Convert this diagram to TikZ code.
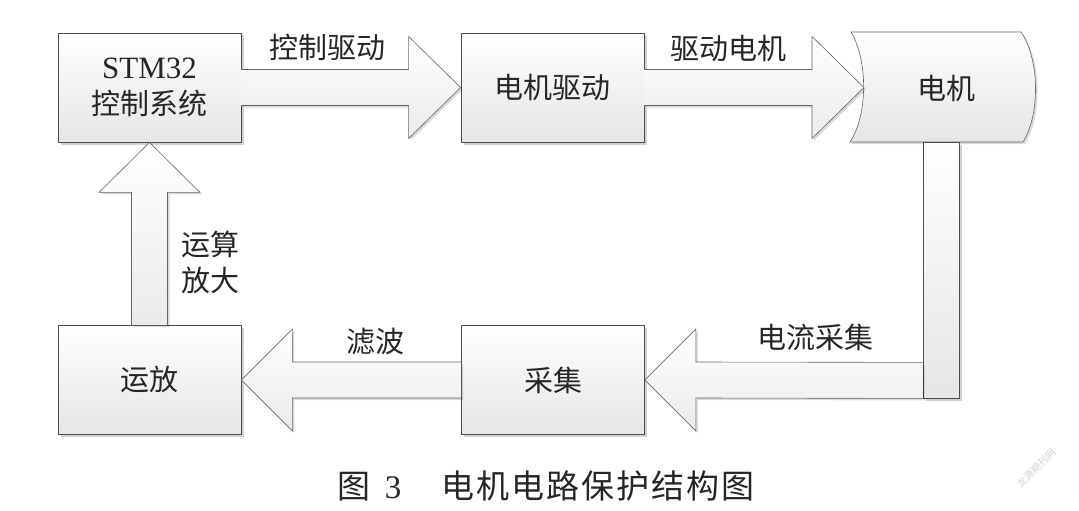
\documentclass[tikz,border=0pt]{standalone}
\usepackage{fontspec}
\setmainfont{Liberation Serif}
\newfontfamily\lat{Liberation Serif}
\newfontfamily\cjk{Noto Sans CJK SC}
\newfontfamily\cjkwide[LetterSpace=6]{Noto Sans CJK SC}
\usetikzlibrary{calc,shadows}

\begin{document}
\begin{tikzpicture}[x=1pt,y=-1pt,
    box/.style={draw=black!70,line width=0.8pt,top color=white,bottom color=black!10,
      minimum width=183pt,minimum height=109pt,inner sep=0pt,align=center,
      font=\cjk\fontsize{29}{36}\selectfont,text=black!85,
      drop shadow={shadow xshift=2.5pt,shadow yshift=-2.5pt,opacity=0.18,fill=black}},
    blockarrow/.style={draw=black!60,line width=0.6pt,top color=white,bottom color=black!8,
      drop shadow={shadow xshift=2pt,shadow yshift=-2pt,opacity=0.15,fill=black}},
    lbl/.style={font=\cjk\fontsize{29}{36}\selectfont,text=black!85,align=center,inner sep=0pt}]
  \useasboundingbox (0,0) rectangle (1079,511);
  \node[box] (stm) at (149.5,87.5) {{\lat\fontsize{31}{36}\selectfont STM32}\\控制系统};
  \node[box] (drv) at (552.5,87.5) {电机驱动};
  \node[box] (amp) at (149.5,380) {运放};
  \node[box] (acq) at (553,380) {采集};
  \draw[blockarrow,top color=white,bottom color=black!10]
    (851,32) -- (1021,32) .. controls (1040,60) and (1040,115) .. (1023,142)
    -- (850,142) .. controls (868,115) and (868,60) .. cycle;
  \coordinate (motortip) at (864,87.5);
  \node[lbl] (motor) at (946,88) {电机};
  \node[box,minimum width=36pt,minimum height=256pt] (bar) at (941,270) {};
  \draw[blockarrow] ($(stm.east)+(0,-18)$) -- ($(drv.west)+(-52,-18)$) -- ($(drv.west)+(-52,-51)$)
    -- (drv.west) -- ($(drv.west)+(-52,51)$) -- ($(drv.west)+(-52,18)$) -- ($(stm.east)+(0,18)$);
  \draw[blockarrow] ($(drv.east)+(0,-18)$) -- ($(motortip)+(-52,-18)$) -- ($(motortip)+(-52,-51)$)
    -- (motortip) -- ($(motortip)+(-52,51)$) -- ($(motortip)+(-52,18)$) -- ($(drv.east)+(0,18)$);
  \draw[blockarrow] ($(bar.south west)+(0,-36)$) -- ($(acq.east)+(51,-18)$) -- ($(acq.east)+(51,-51)$)
    -- (acq.east) -- ($(acq.east)+(51,51)$) -- ($(acq.east)+(51,18)$) -- (bar.south west);
  \draw[blockarrow] ($(acq.west)+(0,-18)$) -- ($(amp.east)+(51,-18)$) -- ($(amp.east)+(51,-51)$)
    -- (amp.east) -- ($(amp.east)+(51,51)$) -- ($(amp.east)+(51,18)$) -- ($(acq.west)+(0,18)$);
  \draw[blockarrow] ($(amp.north)+(-18,0)$) -- ($(stm.south)+(-18,50)$) -- ($(stm.south)+(-50.5,50)$)
    -- (stm.south) -- ($(stm.south)+(50.5,50)$) -- ($(stm.south)+(18,50)$) -- ($(amp.north)+(18,0)$);
  \node[lbl] (l1) at (327,47) {控制驱动};
  \node[lbl] (l2) at (728,48) {驱动电机};
  \node[lbl] (l3) at (815,337) {电流采集};
  \node[lbl] (l4) at (375,342) {滤波};
  \node[lbl] (l5) at (210,262) {运算\\放大};
  \node[inner sep=0pt,font=\fontsize{33}{36}\selectfont,text=black!85] (cap) at (546,486)
    {{\cjkwide 图}\hspace{14pt}3\hspace{40pt}{\cjkwide 电机电路保护结构图}};
  \node[inner sep=0pt,rotate=45,font=\cjk\fontsize{10}{12}\selectfont,text=black!18] (wm) at (1036,468) {龙源期刊网};
\end{tikzpicture}
\end{document}
